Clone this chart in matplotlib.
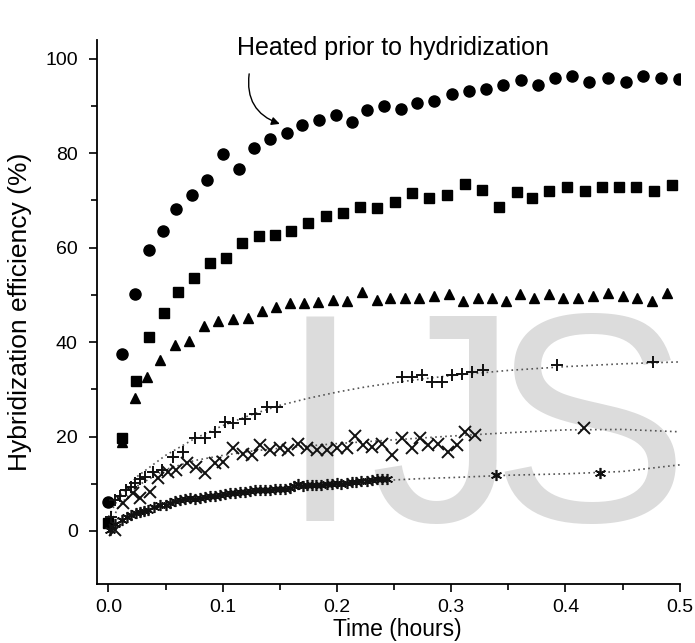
import numpy as np
import matplotlib
matplotlib.use("Agg")
import matplotlib.pyplot as plt

plt.rcParams["font.family"] = ["Liberation Sans", "DejaVu Sans"]

# heated prior to hybridization (circles)
t_circle = [0.000, 0.0115, 0.0231, 0.0356, 0.0474, 0.0596, 0.0728, 0.0859, 0.1004, 0.1142,
            0.1276, 0.1413, 0.156, 0.1696, 0.1842, 0.1991, 0.2129, 0.2265, 0.2414, 0.2558,
            0.2703, 0.2852, 0.3004, 0.3156, 0.3305, 0.3456, 0.3611, 0.3763, 0.3909, 0.4055,
            0.4209, 0.437, 0.4528, 0.4682, 0.4837, 0.4995]
e_circle = [6.1, 37.4, 50.1, 59.4, 63.6, 68.1, 71.2, 74.4, 79.8, 76.7,
            81.2, 83.0, 84.2, 86.0, 87.0, 88.1, 86.7, 89.2, 89.9, 89.4,
            90.6, 91.0, 92.5, 93.1, 93.7, 94.4, 95.5, 94.5, 95.9, 96.4,
            95.1, 96.0, 95.0, 96.3, 96.0, 95.7]

t_square = [0.000, 0.0115, 0.024, 0.0356, 0.0485, 0.0605, 0.0748, 0.0888, 0.1028, 0.1171,
            0.1317, 0.1457, 0.1597, 0.1749, 0.1904, 0.2055, 0.2201, 0.2348, 0.2508, 0.2659,
            0.2808, 0.2961, 0.3121, 0.3267, 0.3419, 0.3574, 0.371, 0.3859, 0.4017, 0.4172,
            0.4323, 0.4469, 0.4618, 0.4778, 0.4936]
e_square = [1.7, 19.6, 31.7, 41.1, 46.2, 50.5, 53.5, 56.8, 57.8, 61.0,
            62.5, 62.6, 63.6, 65.3, 66.6, 67.3, 68.6, 68.4, 69.6, 71.5,
            70.5, 71.2, 73.5, 72.2, 68.6, 71.7, 70.5, 72.0, 72.9, 72.0,
            72.9, 72.8, 72.9, 72.0, 73.3]

t_tri = [0.000, 0.0115, 0.0231, 0.0342, 0.045, 0.0581, 0.0707, 0.0835, 0.0961, 0.1092,
         0.1218, 0.1341, 0.1463, 0.1588, 0.1714, 0.1836, 0.1968, 0.209, 0.2222, 0.2348,
         0.2464, 0.2595, 0.2721, 0.2852, 0.2981, 0.3106, 0.3232, 0.3355, 0.3477, 0.3602,
         0.3725, 0.3856, 0.3982, 0.4113, 0.4244, 0.437, 0.4502, 0.4629, 0.4756, 0.4887]
e_tri = [2.0, 18.8, 28.1, 32.6, 36.3, 39.3, 40.2, 43.3, 44.5, 44.8,
         45.1, 46.5, 47.4, 48.3, 48.3, 48.5, 49.0, 48.8, 50.5, 49.0,
         49.3, 49.3, 49.3, 49.7, 50.1, 48.8, 49.3, 49.3, 48.8, 50.1,
         49.3, 50.1, 49.3, 49.3, 49.7, 50.4, 49.7, 49.3, 48.8, 50.4]

t_plus = [0.002, 0.0056, 0.010, 0.0158, 0.0202, 0.0231, 0.0275, 0.0319, 0.0391, 0.0465,
          0.0567, 0.0654, 0.0757, 0.0844, 0.0932, 0.1019, 0.1092, 0.1194, 0.1282, 0.1384,
          0.1472, 0.2567, 0.2654, 0.2742, 0.2829, 0.2917, 0.301, 0.3097, 0.318, 0.3276,
          0.3924, 0.4764]
e_plus = [3.0, 6.6, 7.3, 8.7, 9.4, 10.1, 11.1, 11.5, 12.5, 12.9,
          15.7, 16.8, 19.6, 19.6, 21.0, 23.0, 22.8, 23.8, 24.7, 26.2,
          26.2, 32.5, 32.5, 33.0, 31.6, 31.6, 33.0, 33.2, 33.7, 34.0,
          35.1, 35.8]

t_cross = [0.0056, 0.0129, 0.0214, 0.0275, 0.0363, 0.0433, 0.052, 0.0596, 0.0684, 0.0771,
           0.0844, 0.0932, 0.1004, 0.1092, 0.118, 0.1253, 0.1326, 0.1414, 0.1501, 0.1574,
           0.1661, 0.1735, 0.1822, 0.191, 0.1997, 0.2085, 0.2158, 0.223, 0.2304, 0.2391,
           0.2479, 0.2567, 0.2654, 0.2727, 0.28, 0.2887, 0.2975, 0.3048, 0.3121, 0.3208,
           0.4163]
e_cross = [0.2, 5.9, 8.0, 7.0, 8.3, 11.2, 12.5, 12.9, 14.3, 13.6,
           12.2, 14.3, 14.7, 17.5, 16.4, 16.1, 18.2, 17.1, 17.5, 17.1,
           18.5, 17.5, 17.1, 17.1, 17.5, 17.5, 20.1, 18.2, 17.8, 18.5,
           16.1, 19.6, 17.5, 19.6, 18.2, 18.5, 16.8, 18.2, 21.0, 20.3,
           21.7]

t_star = [0.001, 0.006, 0.0115, 0.016, 0.020, 0.024, 0.0275, 0.031, 0.035, 0.040,
          0.045, 0.050, 0.054, 0.058, 0.0625, 0.067, 0.0713, 0.0757, 0.080, 0.0845,
          0.0888, 0.093, 0.0975, 0.102, 0.106, 0.1105, 0.115, 0.1195, 0.124, 0.128,
          0.1326, 0.137, 0.1414, 0.1457, 0.150, 0.1545, 0.159, 0.1625, 0.166, 0.170,
          0.1735, 0.178, 0.182, 0.1865, 0.191, 0.1955, 0.200, 0.204, 0.2085, 0.213,
          0.217, 0.2215, 0.226, 0.2305, 0.235, 0.2395, 0.2435, 0.339, 0.4303]
e_star = [0.2, 1.5, 2.3, 3.0, 3.4, 3.8, 4.1, 4.2, 4.4, 5.0,
          5.5, 5.6, 5.9, 6.3, 6.6, 6.7, 6.9, 6.8, 6.9, 7.1,
          7.3, 7.4, 7.6, 7.8, 8.0, 8.1, 8.2, 8.3, 8.5, 8.6,
          8.7, 8.6, 8.7, 8.8, 8.8, 8.9, 9.0, 9.6, 9.9, 9.6,
          9.7, 9.8, 9.7, 9.8, 9.9, 10.0, 10.1, 10.0, 10.2, 10.3,
          10.4, 10.5, 10.6, 10.8, 11.1, 10.9, 10.9, 11.8, 12.2]

# dotted fit curves
t_fit = [0.0, 0.01, 0.025, 0.05, 0.075, 0.1, 0.125, 0.15, 0.175, 0.2,
         0.225, 0.25, 0.275, 0.3, 0.35, 0.4, 0.45, 0.5]
fit_plus = [3.0, 7.5, 11.5, 16.0, 19.5, 22.3, 24.6, 26.6, 28.1, 29.4,
            30.5, 31.4, 32.2, 32.9, 34.0, 34.8, 35.4, 35.8]
fit_cross = [1.0, 5.5, 9.5, 13.0, 14.9, 16.0, 16.9, 17.5, 18.0, 18.5,
             18.9, 19.3, 19.7, 20.1, 20.8, 21.4, 21.5, 21.0]
fit_star = [1.5, 2.8, 4.0, 5.5, 6.7, 7.6, 8.3, 8.9, 9.5, 10.0,
            10.4, 10.8, 11.1, 11.3, 11.8, 12.1, 12.6, 14.0]

fig = plt.figure(figsize=(6.95, 6.43), dpi=100)
ax = fig.add_axes([0.140, 0.092, 0.838, 0.846])
ax.set_zorder(2)
ax.set_facecolor("none")

# watermark behind the plot
wm = dict(fontsize=214, color="#dcdcdc", ha="left", va="baseline", zorder=0)
fig.text(279 / 695, 1 - 521 / 643, "I", **wm)
fig.text(369 / 695, 1 - 521 / 643, "J", **wm)
fig.text(490 / 695, 1 - 521 / 643, "S", **wm)

dot = dict(color="#555555", lw=1.2, ls=(0, (1, 2)), zorder=1)
ax.plot(t_fit, fit_plus, **dot)
ax.plot(t_fit, fit_cross, **dot)
ax.plot(t_fit, fit_star, **dot)

ax.plot(t_circle, e_circle, "o", color="black", ms=8, zorder=3)
ax.plot(t_square, e_square, "s", color="black", ms=6.8, zorder=3)
ax.plot(t_tri, e_tri, "^", color="black", ms=7.8, zorder=3)
ax.plot(t_plus, e_plus, "+", color="#111111", ms=8.5, mew=1.4, zorder=3)
ax.plot(t_cross, e_cross, "x", color="#111111", ms=8, mew=1.4, zorder=3)
ax.plot(t_star, e_star, marker=(6, 2, 0), ls="none", color="#111111", ms=8, mew=1.2, zorder=3)

ax.set_xlim(-0.0097, 0.5)
ax.set_ylim(-11.2, 104)
ax.spines["top"].set_visible(False)
ax.spines["right"].set_visible(False)
for s in ("left", "bottom"):
    ax.spines[s].set_linewidth(1.3)
ax.set_xticks([0.0, 0.1, 0.2, 0.3, 0.4, 0.5])
ax.set_xticks([0.05, 0.15, 0.25, 0.35, 0.45], minor=True)
ax.set_yticks([0, 20, 40, 60, 80, 100])
ax.set_yticks([10, 30, 50, 70, 90], minor=True)
ax.xaxis.set_major_formatter(matplotlib.ticker.FormatStrFormatter("%.1f"))
ax.tick_params(which="major", direction="out", length=6, width=1.2, labelsize=14)
ax.tick_params(axis="x", which="major", pad=5)
ax.tick_params(axis="y", which="major", pad=8)
ax.tick_params(which="minor", direction="out", length=4, width=1.2)

ax.set_xlabel("Time (hours)", fontsize=16.5)
ax.xaxis.set_label_coords(0.515, -0.063)
ax.set_ylabel("Hybridization efficiency (%)", fontsize=19)
ax.yaxis.set_label_coords(-0.112, 0.5)

ax.text(0.1125, 102.3, "Heated prior to hydridization", fontsize=18, va="center", ha="left")
ax.annotate("", xy=(0.150, 86.2), xytext=(0.1232, 96.8),
            arrowprops=dict(arrowstyle="-|>", connectionstyle="arc3,rad=0.4",
                            color="black", lw=1.0, shrinkA=0, shrinkB=0, mutation_scale=12))

fig.savefig("out.png", dpi=100)
